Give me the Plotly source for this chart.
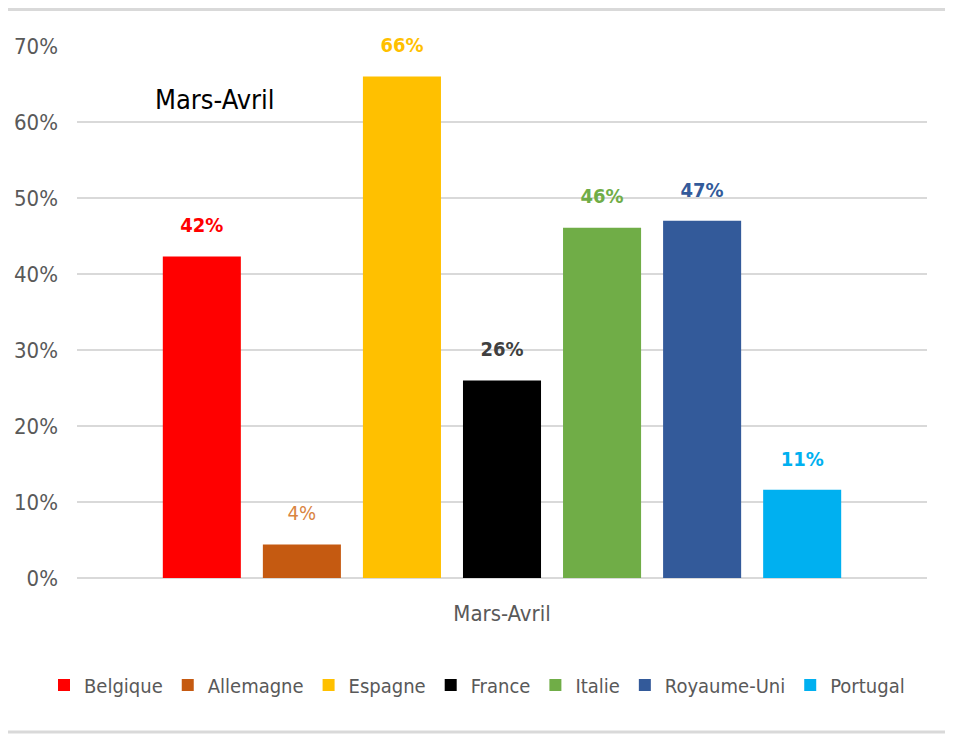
import plotly.graph_objects as go

categories = ["Mars-Avril"]
countries = ["Belgique", "Allemagne", "Espagne", "France", "Italie", "Royaume-Uni", "Portugal"]
values = [42.3, 4.4, 66.0, 26.0, 46.1, 47.0, 11.6]
labels = ["42%", "4%", "66%", "26%", "46%", "47%", "11%"]
bar_colors = ["#FF0000", "#C55A11", "#FFC000", "#000000", "#70AD47", "#335A9A", "#00B0F0"]
label_colors = ["#FF0000", "#D9843F", "#FFC000", "#404040", "#70AD47", "#335A9A", "#00B0F0"]
label_bold = [True, False, True, True, True, True, True]
y_ticks = [0, 10, 20, 30, 40, 50, 60, 70]
y_ticktext = ["0%", "10%", "20%", "30%", "40%", "50%", "60%", "70%"]
annotation_text = "Mars-Avril"

FONT = "DejaVu Sans Condensed, Liberation Sans Narrow, sans-serif"

fig = go.Figure()
for name, v, lab, c, lc, b in zip(countries, values, labels, bar_colors, label_colors, label_bold):
    txt = f"<b>{lab}</b>" if b else lab
    fig.add_trace(go.Bar(
        name=name, x=categories, y=[v],
        marker=dict(color=c, line=dict(width=0)),
        text=[f"<span style='font-size:20px'>{txt}</span><br> "],
        textposition="outside",
        textfont=dict(color=lc, size=14, family=FONT),
        cliponaxis=False,
    ))

# page has an 8px body margin: the figure is sized/offset to compensate
W, H = 945, 726
ml, mr, mt, mb = 69, 26, 38, 156
pw = W - ml - mr
ph = H - mt - mb

def py(fy):
    return (H - mb - fy) / ph

def px(fx):
    return (fx - ml) / pw

fig.update_layout(
    width=W, height=H,
    margin=dict(l=ml, r=mr, t=mt, b=mb, autoexpand=False),
    paper_bgcolor="white", plot_bgcolor="white",
    barmode="group", bargap=0.176, bargroupgap=0.22,
    font=dict(family=FONT, color="#595959", size=20),
    showlegend=True,
    legend=dict(orientation="h", x=px(36), xanchor="left", y=py(677), yanchor="middle",
                font=dict(size=20, color="#595959", family=FONT),
                itemwidth=30, traceorder="normal"),
    xaxis=dict(showgrid=False, showline=False, ticks="", ticklabelstandoff=20,
               automargin=False,
               tickfont=dict(size=22, color="#595959", family=FONT)),
    yaxis=dict(range=[0, 70], tickvals=y_ticks, ticktext=y_ticktext,
               showgrid=True, gridcolor="#D9D9D9", gridwidth=2,
               zeroline=True, zerolinecolor="#D9D9D9", zerolinewidth=2,
               showline=False, ticks="", ticklabelstandoff=18, automargin=False,
               tickfont=dict(size=22, color="#595959", family=FONT)),
    annotations=[dict(text=annotation_text, xref="paper", yref="paper",
                      x=px(207), y=py(92), xanchor="center", yanchor="middle",
                      showarrow=False,
                      font=dict(size=27, color="#000000", family=FONT))],
    shapes=[
        dict(type="line", xref="paper", yref="paper",
             x0=px(0), x1=px(W), y0=py(1.5), y1=py(1.5),
             line=dict(color="#D9D9D9", width=3)),
        dict(type="line", xref="paper", yref="paper",
             x0=px(0), x1=px(W), y0=py(724), y1=py(724),
             line=dict(color="#D9D9D9", width=3)),
    ],
)

fig.write_html("out.html")
